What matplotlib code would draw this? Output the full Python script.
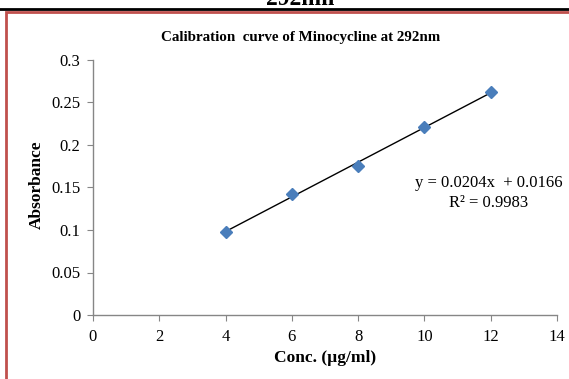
import matplotlib
matplotlib.use("Agg")
import matplotlib.pyplot as plt
from matplotlib.patches import Rectangle
from matplotlib.lines import Line2D
import numpy as np

conc = [4, 6, 8, 10, 12]
absorbance = [0.098, 0.142, 0.175, 0.221, 0.262]
slope = 0.0204
intercept = 0.0166
r2 = 0.9983
x_ticks = [0, 2, 4, 6, 8, 10, 12, 14]
y_ticks = [0, 0.05, 0.1, 0.15, 0.2, 0.25, 0.3]
y_tick_labels = ["0", "0.05", "0.1", "0.15", "0.2", "0.25", "0.3"]

plt.rcParams['font.family'] = ['Liberation Serif', 'DejaVu Serif']

W, H = 569, 379
fig = plt.figure(figsize=(W / 100, H / 100), dpi=100)

# frame decorations
fig.add_artist(Rectangle((6 / W, -0.01), 1.0, 1 - 12 / H + 0.01, transform=fig.transFigure,
                         fill=False, edgecolor='#c0504d', linewidth=2))
fig.add_artist(Line2D([0, 1], [1 - 9 / H, 1 - 9 / H], transform=fig.transFigure,
                      color='black', linewidth=2))
fig.text(300 / W, 1 - 5 / H, "292nm", ha='center', va='baseline', fontsize=17,
         fontweight='bold')

ax = fig.add_axes([93 / W, 1 - 315 / H, (557 - 93) / W, (315 - 60) / H])
xs = np.array([conc[0], conc[-1]])
ax.plot(xs, slope * xs + intercept, color='black', linewidth=1.0, zorder=2)
ax.plot(conc, absorbance, linestyle='none', marker='D', markersize=6,
        color='#4a7ebb', zorder=3)

ax.set_xlim(0, 14)
ax.set_ylim(0, 0.3)
ax.set_xticks(x_ticks)
ax.set_yticks(y_ticks)
ax.set_yticklabels(y_tick_labels)
for s in ['top', 'right']:
    ax.spines[s].set_visible(False)
for s in ['left', 'bottom']:
    ax.spines[s].set_color('#868686')
    ax.spines[s].set_linewidth(1.0)
ax.tick_params(axis='both', direction='out', length=4, color='#868686',
               labelsize=12, labelcolor='black')
ax.tick_params(axis='x', pad=6)
ax.tick_params(axis='y', pad=5)

fig.text(301 / W, 1 - 37 / H, "Calibration  curve of Minocycline at 292nm", ha='center',
         va='center', fontsize=10.8, fontweight='bold')
fig.text(37 / W, 1 - 185 / H, "Absorbance", ha='center', va='center', rotation=90,
         fontsize=12.5, fontweight='bold')
fig.text(325 / W, 1 - 358 / H, "Conc. (µg/ml)", ha='center', va='center',
         fontsize=12.5, fontweight='bold')
fig.text(489 / W, 1 - 183 / H, f"y = {slope}x  + {intercept}", ha='center', va='center',
         fontsize=12)
fig.text(489 / W, 1 - 203 / H, f"R² = {r2}", ha='center', va='center', fontsize=12)

fig.savefig("out.png", dpi=100)
